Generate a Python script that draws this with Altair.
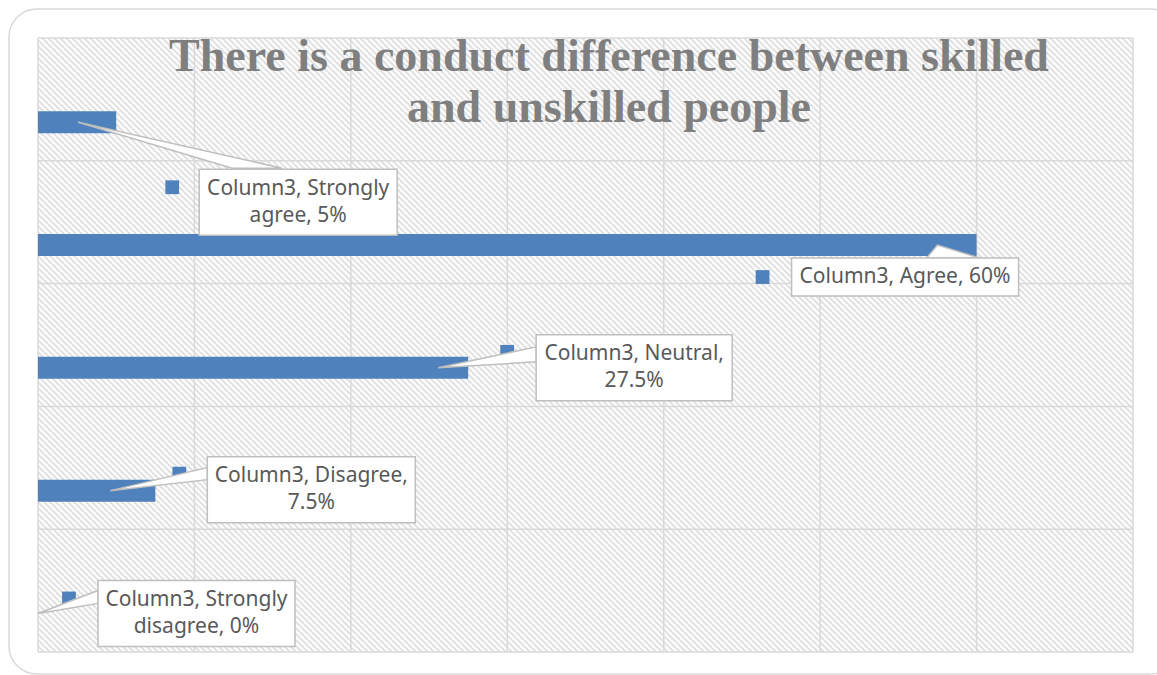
import textwrap

import altair as alt
import numpy as np
import pandas as pd

# ---- chart content -------------------------------------------------------
CATEGORIES = ["Strongly agree", "Agree", "Neutral", "Disagree", "Strongly disagree"]
VALUES = [5, 60, 27.5, 7.5, 0]
SERIES = "Column3"
TITLE_LINES = ["There is a conduct difference between skilled", "and unskilled people"]
X_TICKS = [0, 10, 20, 30, 40, 50, 60, 70]

# ---- geometry / style ----------------------------------------------------
W, H = 1095, 614            # plot area in px
PAD = dict(left=38, top=38, right=24, bottom=23)
XMAX = 70
NROWS = len(CATEGORIES)
BAR_CENTER = 0.686          # bar centre inside its band (0 = top, 1 = bottom)
BAR_PX = 22                 # bar thickness in px
BLUE = "#4f81bd"
GRID = "#d9d9d9"
HATCH = "#e2e2e2"
BORDER = "#bfbfbf"
TEXT = "#595959"
LINE_H = 27                 # label line height

# callout layout, in px offsets from each bar's anchor point (bar end, bar centre)
CALLOUTS = [
    dict(tip=-38, box=(83, 47, 281, 113), base=[(116, 46), (166, 46)], key=(56, 65)),
    dict(tip=-39, box=(-185, 13, 42, 51), base=[(-50, 13), (3, 13)], key=(-214, 32)),
    dict(tip=-30, box=(68, -33, 264, 33), base=[(68, -21), (68, -6)], key=(39, -16)),
    dict(tip=-45, box=(52, -34, 260, 32), base=[(52, -23), (52, -11)], key=(24, -17)),
    dict(tip=0, box=(60, -33, 257, 33), base=[(60, -23), (60, -10)], key=(31, -15)),
]


def ux(px):
    """plot-relative px -> x data units"""
    return px * XMAX / W


def uy(py):
    """plot-relative px -> y data units (rows)"""
    return py * NROWS / H


X = alt.Scale(domain=[0, XMAX], nice=False, zero=False)
Y = alt.Scale(domain=[0, NROWS], nice=False, zero=False, reverse=True)


def xy(xf="x", yf="y"):
    return dict(
        x=alt.X(f"{xf}:Q", scale=X, axis=None),
        y=alt.Y(f"{yf}:Q", scale=Y, axis=None),
    )


# ---- outer frame -----------------------------------------------------------
frame_df = pd.DataFrame([dict(x=ux(-29), x2=ux(1140), y=uy(-29), y2=uy(636))])
frame = alt.Chart(frame_df).mark_rect(
    fill="white", stroke="#d9d9d9", strokeWidth=1.5, cornerRadius=28
).encode(**xy(), x2="x2:Q", y2="y2:Q")

# ---- diagonal hatch of the plot area ---------------------------------------
starts = np.arange(-H, W + 6, 6.0)
hatch_df = pd.DataFrame(
    dict(x=ux(starts), y=uy(0.0), x2=ux(starts + H), y2=uy(float(H)))
)
hatch = alt.Chart(hatch_df).mark_rule(
    color=HATCH, strokeWidth=2.2, clip=True
).encode(**xy(), x2="x2:Q", y2="y2:Q")

# ---- grid lines --------------------------------------------------------------
vgrid = alt.Chart(pd.DataFrame(dict(x=X_TICKS))).mark_rule(
    color=GRID, strokeWidth=1.5
).encode(x=alt.X("x:Q", scale=X, axis=None), y=alt.value(0), y2=alt.value(H))
hgrid = alt.Chart(pd.DataFrame(dict(y=list(range(NROWS + 1))))).mark_rule(
    color=GRID, strokeWidth=1.5
).encode(y=alt.Y("y:Q", scale=Y, axis=None), x=alt.value(0), x2=alt.value(W))

# ---- title ---------------------------------------------------------------------
title_df = pd.DataFrame(
    dict(t=TITLE_LINES, x=[ux(571)] * 2, y=[uy(33), uy(84)])
)
title = alt.Chart(title_df).mark_text(
    font="Liberation Serif", fontWeight="bold", fontSize=46, color="#7f7f7f",
    align="center", baseline="alphabetic",
).encode(**xy(), text="t:N")

# ---- bars ----------------------------------------------------------------------
rows = np.arange(NROWS)
half = uy(BAR_PX / 2)
bars_df = pd.DataFrame(
    dict(cat=CATEGORIES, value=VALUES, y=rows + BAR_CENTER - half, y2=rows + BAR_CENTER + half)
)
bars = alt.Chart(bars_df).mark_rect(color=BLUE).encode(
    x=alt.X("zero:Q", scale=X, axis=None), x2="value:Q",
    y=alt.Y("y:Q", scale=Y, axis=None), y2="y2:Q",
).transform_calculate(zero="0")

# ---- callouts ------------------------------------------------------------------
key_rows, wedge_rows, box_rows, label_rows = [], [], [], []
for i, (cat, val, c) in enumerate(zip(CATEGORIES, VALUES, CALLOUTS)):
    ax = val * W / XMAX                      # anchor in px
    ay = (i + BAR_CENTER) * H / NROWS
    kx, ky = c["key"]
    key_rows.append(dict(x=ux(ax + kx), y=uy(ay + ky)))
    pts = [(ax + c["tip"], ay)] + [(ax + bx, ay + by) for bx, by in c["base"]]
    for k, (px, py) in enumerate(pts):
        wedge_rows.append(dict(id=i, o=k, x=ux(px), y=uy(py)))
    l, t, r, b = c["box"]
    box_rows.append(dict(x=ux(ax + l), x2=ux(ax + r), y=uy(ay + t), y2=uy(ay + b)))
    lines = textwrap.wrap(f"{SERIES}, {cat}, {val:g}%", 19)
    first_y = ay + (t + b) / 2 - (len(lines) - 1) * LINE_H / 2
    label_rows.append(dict(t="\n".join(lines), x=ux(ax + (l + r) / 2), y=uy(first_y)))

keys = alt.Chart(pd.DataFrame(key_rows)).mark_square(
    color=BLUE, opacity=1, size=190
).encode(**xy())

wedges = alt.Chart(pd.DataFrame(wedge_rows)).mark_line(
    interpolate="linear-closed", fill="white", stroke=BORDER, strokeWidth=1.5
).encode(**xy(), detail="id:N", order="o:Q")

boxes = alt.Chart(pd.DataFrame(box_rows)).mark_rect(
    fill="white", stroke=BORDER, strokeWidth=1.5
).encode(**xy(), x2="x2:Q", y2="y2:Q")

labels = alt.Chart(pd.DataFrame(label_rows)).mark_text(
    font="Noto Sans", fontSize=21, color=TEXT, align="center", baseline="middle",
    lineBreak="\n", lineHeight=LINE_H,
).encode(**xy(), text="t:N")

chart = (
    alt.layer(frame, hatch, vgrid, hgrid, title, bars, keys, wedges, boxes, labels)
    .properties(width=W, height=H, padding=PAD, autosize=alt.AutoSizeParams(type="none"),
                background="white")
    .configure_view(strokeWidth=0)
)

chart.save("out.html", embed_options={"renderer": "svg", "actions": False})
